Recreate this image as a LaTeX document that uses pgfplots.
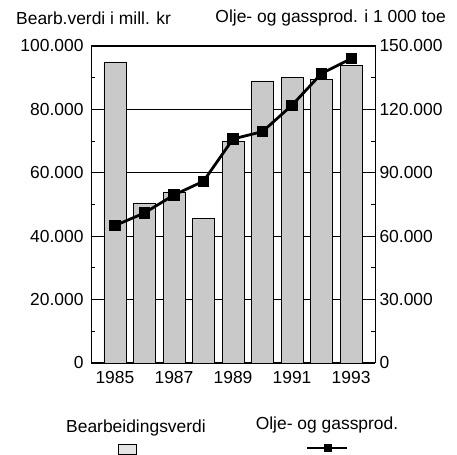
\documentclass[border=0pt]{standalone}
\usepackage{fontspec}
\setmainfont{Liberation Sans}
\usepackage{pgfplots}
\pgfplotsset{compat=1.18}

\pgfplotsset{
  common/.style={
    scale only axis,
    width=284bp, height=317bp,
    at={(91bp,92bp)}, anchor=south west,
    xmin=1984.19, xmax=1993.81,
    scaled y ticks=false,
    tick align=inside,
    major tick length=6bp,
    minor tick length=4bp,
    minor y tick num=1,
    tick style={black, line width=0.8pt},
    ticklabel style={font=\fontsize{17.5}{20}\selectfont},
    /pgf/number format/.cd, fixed, 1000 sep={.}, assume math mode=true,
  },
}

\begin{document}
\begin{tikzpicture}[x=1bp,y=1bp]
\useasboundingbox (0,0) rectangle (457,455);

\begin{axis}[
    common,
    ymin=0, ymax=100000,
    ytick={0,20000,40000,60000,80000,100000},
    ytick pos=left,
    ymajorgrids,
    grid style={black, line width=0.8pt},
    xtick={1985,1987,1989,1991,1993},
    xticklabels={1985,1987,1989,1991,1993},
    major x tick style={draw=none},
    xtick pos=bottom,
    axis line style={black, line width=1pt},
    yticklabel style={xshift=-4bp},
    xticklabel style={yshift=-5bp},
]
\addplot[ybar, bar width=0.74, bar shift=0, fill=gray!42, draw=black, line width=0.6pt]
coordinates {
    (1985, 95000)
    (1986, 50500)
    (1987, 54000)
    (1988, 45500)
    (1989, 70000)
    (1990, 89000)
    (1991, 90000)
    (1992, 89500)
    (1993, 94000)
};
\end{axis}

\begin{axis}[
    common,
    ymin=0, ymax=150000,
    ytick={0,30000,60000,90000,120000,150000},
    axis y line*=right,
    axis x line=none,
    axis line style={black, line width=1pt},
    yticklabel style={xshift=1bp},
]
\addplot[black, line width=2.8pt, mark=square*, mark size=4.2bp] coordinates {
    (1985, 65000)
    (1986, 71000)
    (1987, 79500)
    (1988, 86000)
    (1989, 106000)
    (1990, 109500)
    (1991, 122000)
    (1992, 137000)
    (1993, 144000)
};
\end{axis}

% axis titles
\node[anchor=west, inner sep=0, font=\fontsize{17.5}{20}\selectfont] at (16,437) {Bearb.verdi i mill. kr};
\node[anchor=east, inner sep=0, font=\fontsize{17.5}{20}\selectfont] at (446,437) {Olje- og gassprod. i 1 000 toe};

% legend
\node[inner sep=0, font=\fontsize{17.5}{20}\selectfont] at (136,27) {Bearbeidingsverdi};
\draw[black, line width=0.6pt, fill=gray!20] (118,1) rectangle (136,11);
\node[inner sep=0, font=\fontsize{17.5}{20}\selectfont] at (327,30) {Olje- og gassprod.};
\draw[black, line width=2.8pt] (307,7) -- (347,7);
\fill[black] (324,3) rectangle (332,11);
\end{tikzpicture}
\end{document}
